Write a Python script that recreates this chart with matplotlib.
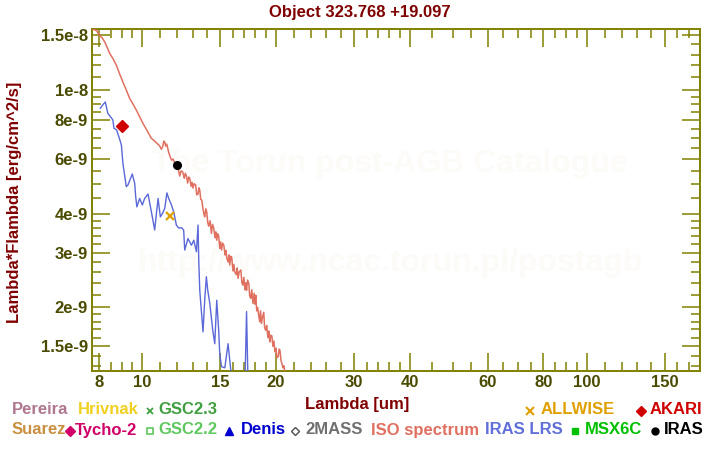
import matplotlib
matplotlib.use('Agg')
import matplotlib.pyplot as plt
from matplotlib.ticker import FixedLocator, FixedFormatter, NullFormatter

plt.rcParams['font.family'] = ['Liberation Sans', 'DejaVu Sans']
plt.rcParams['font.weight'] = 'bold'

# ---------------- data ----------------
# ISO spectrum (wavelength um, flux in 1e-9 erg/cm^2/s)
iso_wl = [7.74, 7.91, 8.03, 8.14, 8.24, 8.35, 8.46, 8.61, 8.76, 8.90, 9.06, 9.22, 9.38, 9.55,
          9.71, 9.88, 10.05, 10.27, 10.50, 10.68, 10.85, 10.96, 11.05, 11.13, 11.20, 11.25,
          11.31, 11.37, 11.48, 11.57, 11.66, 11.75, 11.85, 11.99, 12.08, 12.16, 12.25, 12.35,
          12.45, 12.52, 12.59, 12.67, 12.74, 12.81, 12.90, 12.96, 13.03, 13.10, 13.21, 13.28,
          13.37, 13.43, 13.49, 13.56, 13.63, 13.70, 13.78, 13.84, 13.92, 13.99, 14.06, 14.13,
          14.23, 14.33, 14.41, 14.50, 14.60, 14.66, 14.73, 14.80, 14.88, 14.96, 15.03, 15.10,
          15.19, 15.28, 15.38, 15.45, 15.52, 15.62, 15.70, 15.76, 15.84, 15.92, 16.02, 16.10,
          16.17, 16.30, 16.38, 16.45, 16.55, 16.69, 16.78, 16.86, 16.95, 17.05, 17.12, 17.19,
          17.28, 17.39, 17.47, 17.57, 17.66, 17.78, 17.88, 17.95, 18.03, 18.12, 18.20, 18.31,
          18.40, 18.48, 18.57, 18.65, 18.79, 18.88, 18.99, 19.08, 19.20, 19.29, 19.39, 19.48,
          19.60, 19.70, 19.81, 19.91, 20.02, 20.10, 20.25, 20.35, 20.43, 20.55, 20.65, 20.75,
          20.85, 20.97]
iso_flux = [15.7, 15.5, 14.95, 14.7, 14.3, 13.7, 13.1, 12.6, 12.0, 11.3, 10.6, 10.0, 9.40, 9.0,
            8.62, 8.2, 7.81, 7.40, 6.99, 6.85, 6.70, 6.61, 6.45, 6.56, 6.85, 6.80,
            6.60, 6.70, 6.32, 6.10, 5.95, 6.00, 5.82, 5.67, 5.55, 5.29, 5.50, 5.45,
            5.20, 5.40, 5.29, 5.02, 5.25, 5.21, 4.90, 5.05, 4.84, 5.00, 4.95, 4.60,
            4.63, 4.85, 4.77, 4.45, 4.43, 4.20, 4.00, 3.91, 4.15, 4.05, 3.75, 3.65,
            3.80, 3.46, 3.70, 3.60, 3.35, 3.50, 3.29, 3.45, 3.39, 3.10, 3.25, 3.06,
            3.22, 3.17, 2.95, 3.05, 2.88, 2.80, 2.95, 2.74, 2.92, 2.90, 2.62, 2.75,
            2.60, 2.55, 2.68, 2.48, 2.60, 2.64, 2.40, 2.36, 2.50, 2.28, 2.40, 2.27,
            2.45, 2.39, 2.18, 2.14, 2.28, 2.06, 2.22, 2.05, 2.19, 1.95, 2.00, 1.89,
            1.80, 1.95, 1.78, 1.85, 1.93, 1.72, 1.69, 1.75, 1.60, 1.68, 1.55, 1.63,
            1.62, 1.50, 1.56, 1.44, 1.48, 1.38, 1.39, 1.47, 1.46, 1.35, 1.32, 1.28,
            1.30, 1.24]

# IRAS LRS spectrum
lrs_wl = [8.06, 8.16, 8.27, 8.38, 8.50, 8.60, 8.65, 8.77, 8.91, 8.99, 9.06, 9.14, 9.22, 9.30,
          9.51, 9.63, 9.68, 9.74, 9.88, 10.02, 10.14, 10.32, 10.50, 10.68, 10.87, 11.00,
          11.13, 11.25, 11.38, 11.48, 11.65, 11.79, 11.95, 12.10, 12.27, 12.41, 12.48, 12.69,
          12.92, 13.08, 13.26, 13.37, 13.42, 13.49, 13.72, 13.84, 13.96, 14.06, 14.21, 14.43,
          14.58, 14.73, 14.88, 14.96, 15.10, 15.36, 15.62, 15.76, 15.90, 16.40, 17.04, 17.19,
          17.33]
lrs_flux = [8.73, 8.95, 9.15, 8.41, 8.19, 8.01, 7.53, 7.44, 6.94, 6.65, 5.81, 5.33, 4.89, 4.95,
            5.37, 5.01, 4.54, 4.21, 4.48, 4.27, 4.48, 4.63, 4.06, 3.55, 4.48, 3.91,
            4.02, 4.16, 4.67, 4.49, 4.27, 4.05, 3.68, 3.60, 3.61, 3.55, 3.06, 3.33,
            3.17, 3.29, 3.02, 3.68, 2.84, 2.27, 1.67, 2.11, 2.51, 2.27, 2.06, 1.69,
            1.53, 2.11, 1.69, 1.42, 1.29, 1.28, 1.53, 1.35, 1.20, 1.00, 1.10, 1.94,
            1.10]

akari_wl, akari_flux = [9.0], [7.66e-9]
iras_wl, iras_flux = [12.0], [5.73e-9]
allwise_wl, allwise_flux = [11.56], [3.94e-9]

x_major = [8, 10, 15, 20, 30, 40, 60, 80, 100, 150]
x_labels = ['8', '10', '15', '20', '30', '40', '60', '80', '100', '150']
x_minor = [8.5, 9, 9.5, 11, 12, 13, 14, 16, 17, 18, 19, 22, 24, 26, 28, 32, 34, 36, 38,
           45, 50, 55, 65, 70, 75, 85, 90, 95, 110, 120, 130, 140, 160, 170]
y_major = [1.5e-9, 2e-9, 3e-9, 4e-9, 6e-9, 8e-9, 1e-8, 1.5e-8]
y_labels = ['1.5e-9', '2e-9', '3e-9', '4e-9', '6e-9', '8e-9', '1e-8', '1.5e-8']
y_minor = [1.3e-9, 1.4e-9, 1.6e-9, 1.7e-9, 1.8e-9, 1.9e-9, 2.2e-9, 2.4e-9, 2.6e-9, 2.8e-9,
           3.2e-9, 3.4e-9, 3.6e-9, 3.8e-9, 4.5e-9, 5e-9, 5.5e-9, 6.5e-9, 7e-9, 7.5e-9,
           8.5e-9, 9e-9, 9.5e-9, 1.1e-8, 1.2e-8, 1.3e-8, 1.4e-8]

# ---------------- figure ----------------
W, H = 720, 450
fig = plt.figure(figsize=(7.2, 4.5), dpi=100)
ax = fig.add_axes([92 / W, 1 - 371 / H, 608 / W, 342 / H])
ax.set_xscale('log')
ax.set_yscale('log')
ax.set_xlim(7.72, 180)
ax.set_ylim(1.25e-9, 1.57e-8)

olive = '#808000'
lab = '#4a4a00'
dred = '#800000'

# watermark
ax.text(0.49, 0.605, 'The Torun post-AGB Catalogue', transform=ax.transAxes,
        ha='center', va='center', fontsize=23, color='#fdfbf8', zorder=0)
ax.text(0.49, 0.315, 'http://www.ncac.torun.pl/postagb', transform=ax.transAxes,
        ha='center', va='center', fontsize=23, color='#fdfbf8', zorder=0)

ax.plot(iso_wl, [f * 1e-9 for f in iso_flux], color='#e07060', lw=1.1, zorder=3)
ax.plot(lrs_wl, [f * 1e-9 for f in lrs_flux], color='#5a68d8', lw=1.0, zorder=3)
ax.plot(akari_wl, akari_flux, 'D', color='#d00000', ms=6.5, zorder=5)
ax.plot(iras_wl, iras_flux, 'o', color='black', ms=5.5, zorder=5)
ax.plot(allwise_wl, allwise_flux, 'x', color='#e0a000', ms=5.5, mew=1.6, zorder=5)

ax.xaxis.set_major_locator(FixedLocator(x_major))
ax.xaxis.set_major_formatter(FixedFormatter(x_labels))
ax.xaxis.set_minor_locator(FixedLocator(x_minor))
ax.xaxis.set_minor_formatter(NullFormatter())
ax.yaxis.set_major_locator(FixedLocator(y_major))
ax.yaxis.set_major_formatter(FixedFormatter(y_labels))
ax.yaxis.set_minor_locator(FixedLocator(y_minor))
ax.yaxis.set_minor_formatter(NullFormatter())

ax.tick_params(which='major', direction='in', length=13, width=1.1, color=olive,
               top=True, right=True, labelsize=12, labelcolor=lab, pad=3)
ax.tick_params(which='minor', direction='in', length=6.5, width=1.1, color=olive,
               top=True, right=True)
for s in ax.spines.values():
    s.set_color(olive)
    s.set_linewidth(1.4)

fig.text(0.5, 1 - 12 / H, 'Object 323.768 +19.097', ha='center', va='center',
         fontsize=12, color=dred)
fig.text(357 / W, 1 - 404 / H, 'Lambda [um]', ha='center', va='center',
         fontsize=12, color=dred)
fig.text(15 / W, 1 - 202 / H, 'Lambda*Flambda [erg/cm^2/s]', ha='center', va='center',
         rotation=90, fontsize=12, color=dred)

# legend (text + marker symbols)
lg = fig.add_axes([0, 0, 1, 1], facecolor='none')
lg.set_xlim(0, W)
lg.set_ylim(H, 0)
lg.axis('off')
r1, r2 = 410, 430
items_text = [
    (12, r1, 'Pereira', '#b07890'),
    (78, r1, 'Hrivnak', '#f0d020'),
    (158, r1, 'GSC2.3', '#40a040'),
    (541, r1, 'ALLWISE', '#e0a000'),
    (650, r1, 'AKARI', '#d00000'),
    (12, r2, 'Suarez', '#c89040'),
    (75, r2, 'Tycho-2', '#d00068'),
    (158, r2, 'GSC2.2', '#60c860'),
    (241, r2, 'Denis', '#0000d0'),
    (305, r2, '2MASS', '#707070'),
    (371, r2, 'ISO spectrum', '#e07060'),
    (485, r2, 'IRAS LRS', '#6070d8'),
    (585, r2, 'MSX6C', '#00c000'),
    (664, r2, 'IRAS', '#000000'),
]
for x, y, t, c in items_text:
    lg.text(x, y, t, ha='left', va='center', fontsize=12, color=c)
sym = [
    (150, r1, 'x', '#40a040', 4, 1.3, True),
    (530, r1, 'x', '#e0a000', 6, 1.5, True),
    (641, r1, 'D', '#d00000', 5, 1, True),
    (70, r2, 'D', '#d00068', 5, 1, True),
    (150, r2, 's', '#60c860', 4.5, 1.2, False),
    (229, r2, '^', '#0000d0', 5.5, 1, True),
    (295, r2, 'D', '#505050', 4.5, 1, False),
    (575, r2, 's', '#00c000', 5, 1, True),
    (655, r2, 'o', '#000000', 5, 1, True),
]
for x, y, m, c, ms, mew, filled in sym:
    lg.plot([x], [y + 1], m, color=c, ms=ms, mew=mew,
            mfc=c if filled else 'none', mec=c)

fig.savefig('out.png', dpi=100)
